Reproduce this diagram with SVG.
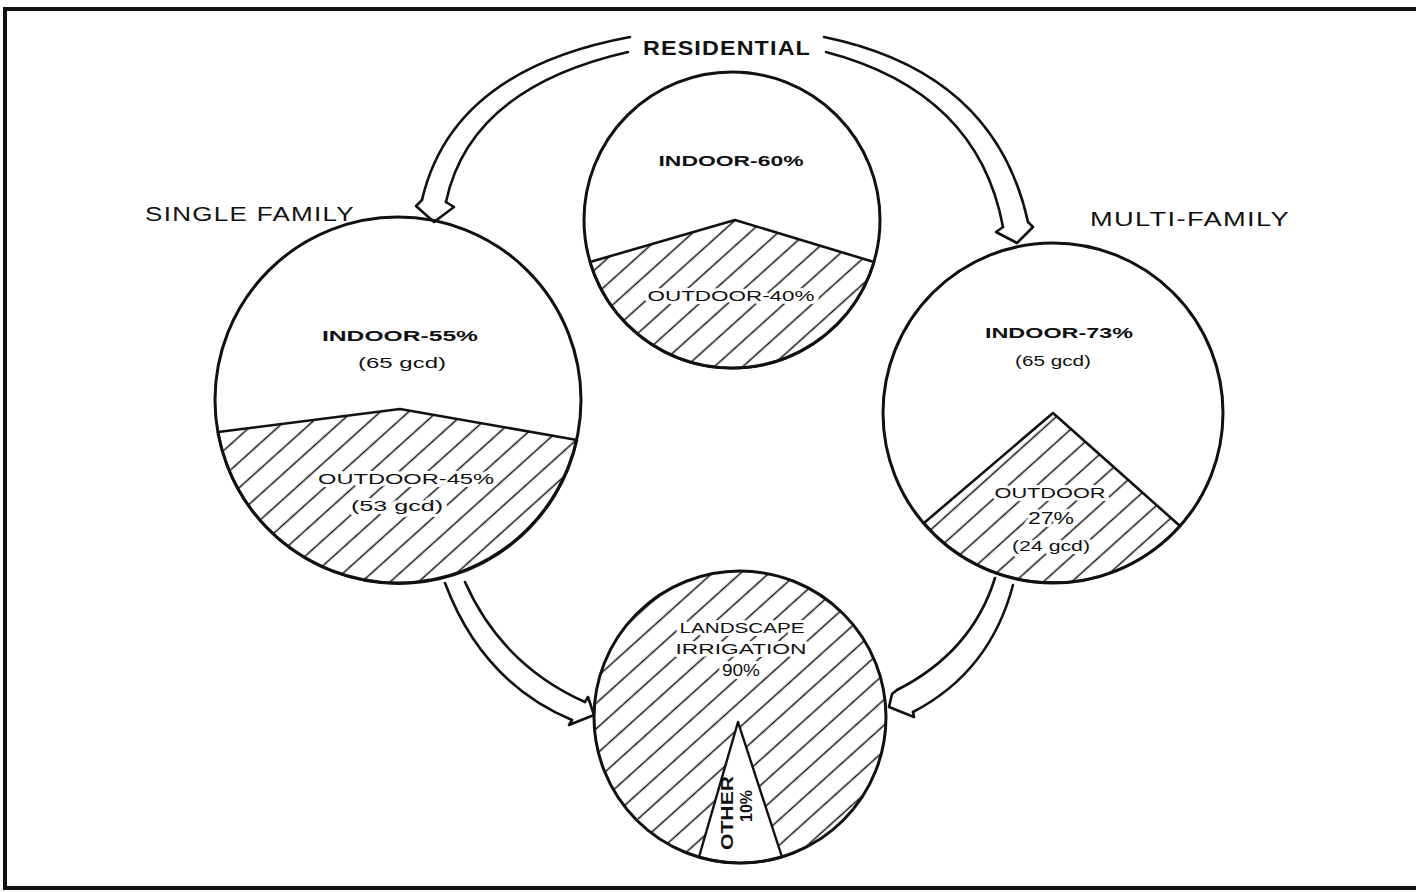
<svg xmlns="http://www.w3.org/2000/svg" width="1416" height="892" viewBox="0 0 1416 892">
<style>
  .ring{fill:none;stroke:#111;stroke-width:3}
  .chord{fill:url(#hatch);stroke:#111;stroke-width:2.6;stroke-linejoin:round}
  .blank{fill:#fff;stroke:#111;stroke-width:2.4;stroke-linejoin:round}
  .arr{fill:none;stroke:#111;stroke-width:2.6;stroke-linecap:round;stroke-linejoin:round}
  .t{font-family:"Liberation Sans","DejaVu Sans",Arial,sans-serif;fill:#111;text-anchor:middle}
  .big{font-size:20px;letter-spacing:1px}
  .lab{font-size:15px;font-weight:bold}
  .sm{font-size:14px}
  .md{font-size:16px}
  .halo{stroke:#fff;stroke-width:6;paint-order:stroke;stroke-linejoin:round}
</style>
<defs>
  <pattern id="hatch" patternUnits="userSpaceOnUse" width="40" height="19" patternTransform="rotate(-42)">
    <line x1="0" y1="9.5" x2="40" y2="9.5" stroke="#111" stroke-width="1.7"/>
  </pattern>
</defs>
<rect width="1416" height="892" fill="#fff"/>
<!-- frame -->
<path d="M 1416 9 L 5 9 L 5 888 L 1416 888" fill="none" stroke="#111" stroke-width="4"/>

<g id="connectors">
  <!-- residential to single family -->
  <path class="arr" d="M 630 37 Q 452 70 422 200"/>
  <path class="arr" d="M 628 52 Q 470 88 446 202"/>
  <path class="arr" d="M 422 200 L 416 206 L 434 222 L 454 207 L 446 202"/>
  <!-- residential to multi family -->
  <path class="arr" d="M 824 37 Q 995 72 1028 222"/>
  <path class="arr" d="M 826 52 Q 978 92 1003 227"/>
  <path class="arr" d="M 1028 222 L 1033 227 L 1017 243 L 996 232 L 1003 227"/>
  <!-- single family to landscape -->
  <path class="arr" d="M 445 583 Q 482 682 572 720"/>
  <path class="arr" d="M 465 582 Q 502 665 585 702"/>
  <path class="arr" d="M 572 720 L 569 725 L 594 715 L 588 697 L 585 702"/>
  <!-- multi family to landscape -->
  <path class="arr" d="M 1013 585 Q 990 672 913 712"/>
  <path class="arr" d="M 995 578 Q 972 652 897 690"/>
  <path class="arr" d="M 897 690 L 892 694 L 889 707 L 914 717 L 913 712"/>
</g>

<g id="residential">
  <text class="t big" x="727" y="55" font-weight="bold" textLength="168" lengthAdjust="spacingAndGlyphs">RESIDENTIAL</text>
  <path class="chord" d="M 590 262 L 735 220 L 874 262 A 148 148 0 0 1 590 262 Z"/>
  <circle class="ring" cx="732" cy="220" r="148"/>
  <text class="t lab" x="731" y="166" textLength="145" lengthAdjust="spacingAndGlyphs">INDOOR-60%</text>
  <text class="t sm halo" x="731" y="301" textLength="167" lengthAdjust="spacingAndGlyphs">OUTDOOR-40%</text>
</g>

<g id="single-family">
  <text class="t big" x="250" y="221" textLength="210" lengthAdjust="spacingAndGlyphs">SINGLE FAMILY</text>
  <path class="chord" d="M 218 432 L 400 409 L 577 440 A 183 183 0 0 1 218 432 Z"/>
  <circle class="ring" cx="398" cy="400" r="183"/>
  <text class="t lab" x="400" y="341" textLength="156" lengthAdjust="spacingAndGlyphs">INDOOR-55%</text>
  <text class="t sm" x="402" y="368" textLength="88" lengthAdjust="spacingAndGlyphs">(65 gcd)</text>
  <text class="t sm halo" x="406" y="484" textLength="176" lengthAdjust="spacingAndGlyphs">OUTDOOR-45%</text>
  <text class="t sm halo" x="397" y="511" textLength="92" lengthAdjust="spacingAndGlyphs">(53 gcd)</text>
</g>

<g id="multi-family">
  <text class="t big" x="1190" y="226" textLength="200" lengthAdjust="spacingAndGlyphs">MULTI-FAMILY</text>
  <path class="chord" d="M 1053 413 L 924 523 A 170 170 0 0 0 1180 526 Z"/>
  <circle class="ring" cx="1053" cy="413" r="170"/>
  <text class="t lab" x="1059" y="338" textLength="148" lengthAdjust="spacingAndGlyphs">INDOOR-73%</text>
  <text class="t sm" x="1053" y="366" textLength="76" lengthAdjust="spacingAndGlyphs">(65 gcd)</text>
  <text class="t sm halo" x="1050" y="498" textLength="111" lengthAdjust="spacingAndGlyphs">OUTDOOR</text>
  <text class="t md halo" x="1051" y="524" textLength="46" lengthAdjust="spacingAndGlyphs">27%</text>
  <text class="t sm halo" x="1051" y="551" textLength="78" lengthAdjust="spacingAndGlyphs">(24 gcd)</text>
</g>

<g id="landscape">
  <circle cx="740" cy="717" r="146" fill="url(#hatch)"/>
  <path class="blank" d="M 738 722 L 699 857 A 146 146 0 0 0 782 857 Z"/>
  <circle class="ring" cx="740" cy="717" r="146"/>
  <text class="t sm halo" x="742" y="633" textLength="125" lengthAdjust="spacingAndGlyphs">LANDSCAPE</text>
  <text class="t sm halo" x="741" y="654" textLength="131" lengthAdjust="spacingAndGlyphs">IRRIGATION</text>
  <text class="t md halo" x="741" y="676" textLength="38" lengthAdjust="spacingAndGlyphs">90%</text>
  <text class="t md" font-weight="bold" transform="translate(733 813) rotate(-90)" textLength="74" lengthAdjust="spacingAndGlyphs">OTHER</text>
  <text class="t md" font-weight="bold" transform="translate(752 806) rotate(-90)" textLength="32" lengthAdjust="spacingAndGlyphs">10%</text>
</g>
</svg>
